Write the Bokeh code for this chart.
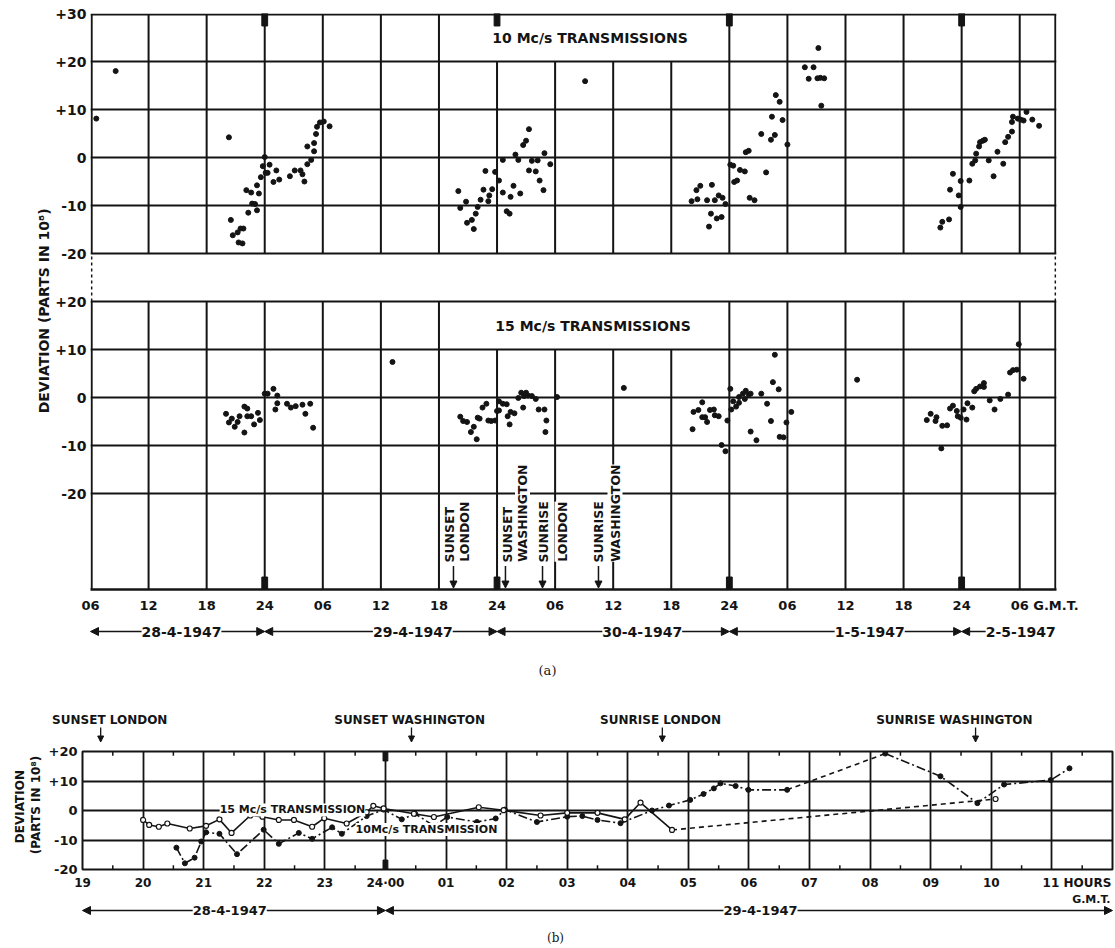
import numpy as np
from bokeh.plotting import figure
from bokeh.models import (Range1d, FixedTicker, Label, Arrow, NormalHead, ColumnDataSource)
from bokeh.layouts import column, row
from bokeh.embed import file_html
from bokeh.resources import INLINE

# ---------------------------------------------------------------- data
# Panel (a): time in hours counted from 00 h G.M.T. on 28-4-1947
A10_HOURS = [6.6, 8.6, 20.3, 20.5, 20.7, 21.2, 21.3, 21.7, 21.5, 21.8, 22.1, 22.3, 22.6, 22.7,
             23.0, 23.2, 23.2, 23.4, 23.6, 23.8, 24.0, 24.1, 24.3, 24.5, 24.9, 25.2, 25.5, 26.6,
             27.1, 27.7, 27.9, 28.1, 28.4, 28.4, 28.8, 29.1, 29.1, 29.3, 29.4, 29.7, 30.1, 30.7,
             44.0, 44.2, 44.8, 44.9, 45.4, 45.6, 45.8, 46.0, 46.3, 46.6, 46.8, 47.1, 47.2, 47.5,
             47.8, 48.2, 48.6, 48.6, 49.0, 49.3, 49.4, 49.7, 49.9, 50.2, 50.4, 50.7, 51.0, 51.3,
             51.3, 51.6, 52.0, 52.2, 52.4, 52.8, 52.9, 53.5, 57.1,
             68.1, 68.6, 68.7, 69.0, 69.7, 69.9, 70.1, 70.2, 70.5, 70.7, 70.9, 71.2, 71.3, 71.6,
             72.1, 72.4, 72.5, 72.8, 73.1, 73.6, 73.7, 74.0, 74.1, 74.6, 75.3, 75.8, 76.3, 76.4,
             76.7, 76.8, 77.2, 77.5, 78.0, 79.8, 80.2, 80.7, 81.1, 81.4, 81.8, 81.2, 81.5,
             93.8, 94.0, 94.7, 94.8, 95.1, 95.7, 95.9, 95.9, 96.8, 97.1, 97.4, 97.5, 97.8, 97.9,
             98.2, 98.4, 98.8, 99.3, 99.7, 100.3, 100.5, 100.8, 101.2, 101.2, 101.3, 101.8, 102.1,
             102.4, 102.7, 103.3, 104.0]
A10_DEV = [8.1, 18.0, 4.2, -13.0, -16.2, -15.6, -17.7, -17.9, -14.8, -14.8, -6.8, -11.5, -7.3, -9.6,
           -9.7, -11.0, -5.8, -7.5, -4.1, -1.8, 0.1, -3.2, -3.2, -1.5, -5.1, -2.7, -4.6, -3.9,
           -2.7, -2.7, -3.5, -5.0, -1.4, 2.3, -0.5, 1.3, 3.0, 4.9, 6.4, 7.3, 7.5, 6.5,
           -7.0, -10.5, -9.2, -13.6, -13.0, -14.9, -11.7, -10.3, -8.8, -6.7, -2.8, -9.1, -7.9, -6.6,
           -3.0, -4.8, -0.5, -7.3, -11.2, -11.7, -8.2, -5.9, 0.6, -0.5, -7.5, 2.6, 3.5, 5.9,
           -2.7, -0.7, -2.9, -0.6, -4.8, -6.8, 0.9, -1.4, 15.9,
           -9.1, -6.8, -8.7, -5.9, -8.9, -14.4, -11.7, -5.7, -8.9, -12.7, -7.9, -12.4, -8.4, -9.7,
           -1.5, -1.7, -5.1, -4.8, -2.6, -2.9, 1.1, 1.4, -8.4, -8.9, 4.9, -3.1, 3.7, 8.5,
           4.7, 13.0, 11.6, 7.8, 2.7, 18.8, 16.4, 18.8, 16.5, 16.6, 16.5, 22.8, 10.8,
           -14.6, -13.4, -12.9, -6.7, -3.4, -7.9, -10.3, -4.9, -4.8, -1.3, -0.6, 0.8, 2.3, 3.2,
           3.5, 3.7, -0.6, -3.9, 1.2, -1.3, 3.2, 4.3, 5.4, 7.4, 8.5, 8.1, 7.9,
           7.7, 9.5, 7.9, 6.6]

A15_HOURS = [20.0, 20.3, 20.6, 20.9, 21.2, 21.4, 21.9, 22.2, 21.9, 22.2, 22.6, 22.9, 23.3, 23.5,
             24.0, 24.3, 24.9, 25.3, 25.3, 25.1, 26.3, 26.7, 27.2, 27.9, 28.7, 28.2, 29.0, 37.2,
             44.2, 44.5, 44.9, 45.3, 45.6, 45.9, 46.0, 46.2, 46.5, 46.9, 47.1, 47.4, 47.8, 48.0,
             48.2, 48.2, 48.6, 49.0, 49.1, 49.3, 49.4, 49.8, 50.2, 50.5, 50.8, 51.0, 51.2, 51.6,
             50.7, 52.0, 52.3, 52.9, 53.1, 53.0, 54.2, 61.1,
             68.2, 68.3, 68.8, 69.2, 69.2, 69.5, 69.7, 70.0, 70.4, 70.5, 70.9, 71.2, 71.6, 71.8,
             72.1, 72.2, 72.4, 72.7, 73.0, 73.0, 73.4, 73.7, 74.0, 74.2, 74.2, 75.3, 73.6, 75.9,
             76.3, 74.8, 76.5, 76.7, 77.1, 77.2, 77.6, 77.9, 78.4, 85.2,
             92.4, 92.8, 93.3, 93.4, 93.9, 94.0, 94.5, 94.8, 95.1, 95.5, 95.6, 95.9, 96.5, 96.2,
             96.6, 97.1, 97.3, 97.5, 97.9, 98.3, 98.3, 98.9, 99.4, 100.0, 100.8, 101.0, 101.3,
             101.7, 101.9, 102.4]
A15_DEV = [-3.4, -5.2, -4.4, -6.1, -5.1, -3.9, -1.9, -2.3, -7.3, -3.9, -3.9, -5.6, -3.2, -4.7,
           0.8, 0.8, 1.8, 0.4, -1.2, -2.5, -1.3, -2.1, -1.8, -1.5, -1.3, -3.4, -6.3, 7.4,
           -4.0, -4.9, -5.1, -7.2, -6.1, -8.7, -4.2, -4.4, -2.1, -1.3, -4.8, -4.9, -4.8, -2.8,
           -0.8, -2.7, -1.3, -1.4, -3.9, -5.6, -3.0, -3.3, -0.1, 1.0, 0.3, 1.0, 0.4, 0.3,
           -2.1, -0.3, -2.5, -2.5, -4.8, -7.2, 0.1, 2.0,
           -6.6, -3.0, -2.6, -1.0, -4.1, -4.1, -5.1, -2.6, -2.5, -3.7, -3.9, -9.9, -11.2, -4.8,
           1.8, -2.5, -0.8, -1.9, -1.1, 0.1, 0.8, 1.4, 0.6, -7.1, 0.8, 0.8, -0.3, -1.3,
           -4.9, -8.9, 3.2, 8.9, 1.7, -8.2, -8.3, -5.2, -3.0, 3.7,
           -4.7, -3.4, -4.9, -4.1, -10.6, -5.9, -5.8, -2.3, -1.7, -2.8, -3.9, -4.2, -4.6, -2.5,
           -1.2, -2.1, 1.3, 1.8, 2.3, 3.0, 2.2, -0.6, -2.5, -0.3, 0.6, 5.2, 5.7,
           5.8, 11.1, 3.9]

A_TICKS = [6, 12, 18, 24, 30, 36, 42, 48, 54, 60, 66, 72, 78, 84, 90, 96, 102]
A_TICK_LABELS = ["06", "12", "18", "24", "06", "12", "18", "24", "06", "12", "18", "24",
                 "06", "12", "18", "24", "06 G.M.T."]
A_DEV_TICKS = [-20, -10, 0, 10, 20, 30]
A_DEV_LABELS = ["-20", "-10", "0", "+10", "+20", "+30"]
A_DAY_START = [6, 24, 48, 72, 96]
A_DAY_END = [24, 48, 72, 96, 100]
A_DATES = ["28-4-1947", "29-4-1947", "30-4-1947", "1-5-1947", "2-5-1947"]
A_DATE_POS = [15.4, 39.3, 63.0, 86.5, 102.1]
A_SUN_WORD = ["SUNSET", "SUNSET", "SUNRISE", "SUNRISE"]
A_SUN_CITY = ["LONDON", "WASHINGTON", "LONDON", "WASHINGTON"]
A_SUN_HOURS = [43.5, 48.87, 52.7, 58.48]

# Panel (b): hours counted from 00 h G.M.T. on 28-4-1947
B15_HOURS = [20.0, 20.1, 20.26, 20.4, 20.77, 21.04, 21.26, 21.46, 21.77, 21.97, 22.24, 22.49,
             22.79, 22.99, 23.36, 23.69, 23.8, 23.97, 24.47, 24.8, 25.54, 25.95, 26.56, 27.0,
             27.5, 27.95, 28.21, 28.73, 34.07]
B15_DEV = [-3.2, -4.9, -5.5, -4.4, -6.1, -5.2, -3.0, -7.6, -1.7, -2.1, -3.2, -3.2,
           -5.5, -2.6, -4.4, -0.6, 1.6, 0.7, -1.1, -2.2, 1.1, 0.1, -1.7, -0.8,
           -0.8, -3.0, 2.7, -6.6, 3.9]
B10_HOURS = [20.55, 20.69, 20.85, 20.96, 21.04, 21.26, 21.55, 21.99, 22.24, 22.57, 22.79, 23.12,
             23.28, 23.69, 23.97, 24.27, 24.49, 24.8, 25.02, 25.51, 25.82, 25.97, 26.5, 27.0,
             27.25, 27.5, 27.88, 28.4, 28.68, 29.03, 29.25, 29.42, 29.53, 29.78, 29.99, 30.63,
             32.25, 33.16, 33.77, 34.21, 34.98, 35.29]
B10_DEV = [-12.6, -17.9, -16.0, -10.5, -7.4, -7.9, -14.8, -6.5, -11.3, -7.6, -9.6, -5.7,
           -7.9, -1.9, 0.3, -3.0, -1.1, -5.2, -2.2, -3.9, -2.7, 0.3, -3.9, -2.1,
           -1.9, -3.2, -4.3, 0.0, 1.7, 3.6, 5.6, 7.5, 9.2, 8.3, 7.0, 7.0,
           19.3, 11.6, 2.5, 8.8, 10.3, 14.3]
B_TICKS = list(range(19, 36))
B_TICK_LABELS = ["19", "20", "21", "22", "23", "24·00", "01", "02", "03", "04", "05",
                 "06", "07", "08", "09", "10", "11 HOURS"]
B_DEV_TICKS = [-20, -10, 0, 10, 20]
B_DEV_LABELS = ["-20", "-10", "0", "+10", "+20"]
B_DATES = ["28-4-1947", "29-4-1947"]
B_DATE_POS = [21.43, 30.19]
B_DAY_START = [19, 24]
B_DAY_END = [24, 36]
B_SUN_TEXT = ["SUNSET LONDON", "SUNSET WASHINGTON", "SUNRISE LONDON", "SUNRISE WASHINGTON"]
B_SUN_TEXT_POS = [19.45, 24.4, 28.54, 33.39]
B_SUN_HOURS = [19.3, 24.43, 28.57, 33.74]

# ---------------------------------------------------------------- style / geometry
INK = "#141414"
FONT = "DejaVu Sans"
NBSP = "\u00a0"
TOP_OFF = 90   # vertical offset of the 10 Mc/s section in panel (a)
LOW_OFF = 40   # vertical offset of the 15 Mc/s section in panel (a)
PAGE_W = 1115
KA = (1056 - 90) / (105.8 - 6)     # panel (a): px per hour
KB = (1112 - 82) / 17.0            # panel (b): px per hour


def ha(px):
    return 6 + (px - 90) / KA


def hb(px):
    return 19 + (px - 82) / KB


def lab(p, x, y, text, size="13px", align="center", baseline="middle", angle=0,
        bg=None, style="bold", font=FONT):
    kw = dict(x=x, y=y, text=text, text_font=font, text_font_style=style,
              text_font_size=size, text_color=INK, text_align=align,
              text_baseline=baseline, angle=angle, angle_units="deg")
    if bg:
        kw["background_fill_color"] = bg
        kw["background_fill_alpha"] = 1.0
    p.add_layout(Label(**kw))


def arrow(p, x0, y0, x1, y1, size=7, width=1.5, both=False):
    kw = dict(x_start=x0, y_start=y0, x_end=x1, y_end=y1, line_color=INK, line_width=width,
              end=NormalHead(size=size, fill_color=INK, line_color=INK, line_width=1))
    if both:
        kw["start"] = NormalHead(size=size, fill_color=INK, line_color=INK, line_width=1)
    p.add_layout(Arrow(**kw))


def blank(width, top, bottom, x0, x1):
    """Full-frame strip; y data = -(page y)."""
    p = figure(width=width, height=bottom - top, x_range=Range1d(x0, x1),
               y_range=Range1d(-bottom, -top), x_axis_type=None, y_axis_type=None,
               output_backend="svg", toolbar_location=None, min_border=0)
    p.outline_line_color = None
    p.background_fill_color = "white"
    p.border_fill_color = "white"
    return p


def style_axis(ax, size):
    ax.axis_line_color = None
    ax.major_tick_line_color = None
    ax.minor_tick_line_color = None
    ax.major_tick_out = 0
    ax.major_tick_in = 0
    ax.minor_tick_out = 0
    ax.minor_tick_in = 0
    ax.major_label_text_font = FONT
    ax.major_label_text_font_style = "bold"
    ax.major_label_text_font_size = size
    ax.major_label_text_color = INK


# ================================================================ panel (a)
XA0, XA1 = 6, 105.8
AUXA_W = 52
pa = figure(width=PAGE_W - AUXA_W, height=616, x_range=Range1d(XA0, XA1),
            y_range=Range1d(0, 120), output_backend="svg", toolbar_location=None,
            min_border_left=38, min_border_right=59, min_border_top=13, min_border_bottom=27)
pa.outline_line_color = None
pa.grid.visible = False
pa.background_fill_color = "white"
pa.border_fill_color = "white"

merged = {48, 54, 60, 66}
sx0, sy0, sx1, sy1 = [], [], [], []
for t in A_TICKS:
    xt = t + 0.12 if t == XA0 else t
    sx0 += [xt, xt]
    sx1 += [xt, xt]
    sy0 += [70, 0]
    sy1 += [110 if t in merged else 119.8, 50 if t in merged else 60]
xr = XA1 - 0.12
sx0 += [xr, xr]; sx1 += [xr, xr]; sy0 += [0, 70]; sy1 += [60, 119.8]
for yv in [70, 80, 90, 100, 110, 119.8, 20, 30, 40, 50, 60]:
    sx0.append(XA0); sx1.append(XA1); sy0.append(yv); sy1.append(yv)
pa.segment(x0=sx0, y0=sy0, x1=sx1, y1=sy1, line_color=INK, line_width=2)
pa.segment(x0=[XA0 + 0.12, xr], y0=[60, 60], x1=[XA0 + 0.12, xr], y1=[70, 70],
           line_color=INK, line_width=1.5, line_dash="3 3")
mid = [24, 48, 72, 96]
pa.quad(left=[m - 0.3 for m in mid], right=[m + 0.3 for m in mid],
        bottom=[117.4] * 4, top=[120] * 4, color=INK)
pa.quad(left=[m - 0.3 for m in mid], right=[m + 0.3 for m in mid],
        bottom=[0] * 4, top=[2.6] * 4, color=INK)

src10 = ColumnDataSource(dict(x=A10_HOURS, y=np.array(A10_DEV) + TOP_OFF))
src15 = ColumnDataSource(dict(x=A15_HOURS, y=np.array(A15_DEV) + LOW_OFF))
pa.scatter("x", "y", source=src10, size=5, color=INK)
pa.scatter("x", "y", source=src15, size=5, color=INK)

pad_a = NBSP * 11
a_labels = list(A_TICK_LABELS)
a_labels[-1] = pad_a + a_labels[-1]
pa.xaxis.ticker = FixedTicker(ticks=A_TICKS)
pa.xaxis.major_label_overrides = {t: s for t, s in zip(A_TICKS, a_labels)}
style_axis(pa.xaxis, "13px")
pa.xaxis.axis_line_color = INK
pa.xaxis.axis_line_width = 2.5
pa.xaxis.major_label_standoff = 8

ya_ticks = [v + LOW_OFF for v in A_DEV_TICKS[:-1]] + [v + TOP_OFF for v in A_DEV_TICKS]
ya_labels = A_DEV_LABELS[:-1] + A_DEV_LABELS
pa.yaxis.ticker = FixedTicker(ticks=ya_ticks)
pa.yaxis.major_label_overrides = {t: s for t, s in zip(ya_ticks, ya_labels)}
style_axis(pa.yaxis, "14px")
pa.yaxis.major_label_standoff = 4

lab(pa, ha(592), 115, "10 Mc/s  TRANSMISSIONS", size="14px")
lab(pa, ha(595), 55, "15 Mc/s  TRANSMISSIONS", size="14px")

word_px = [449, 507, 542.5, 597.5]
city_px = [464, 522, 561.5, 614.5]
for w, c, h, wx, cx in zip(A_SUN_WORD, A_SUN_CITY, A_SUN_HOURS, word_px, city_px):
    lab(pa, ha(wx), 5.6, w, size="12.5px", align="left", angle=90, bg="white")
    lab(pa, ha(cx), 5.8, c, size="12.5px", align="left", angle=90, bg="white")
    arrow(pa, h, 4.9, h, 0.3, size=7)

auxa = blank(AUXA_W, 0, 616, 0, AUXA_W)
lab(auxa, 43, -305, "DEVIATION      (PARTS IN 10\u2078)", size="14px", angle=90)

# date row of panel (a)
da = blank(PAGE_W, 616, 700, ha(0), ha(PAGE_W))
for i, (d0, d1) in enumerate(zip(A_DAY_START, A_DAY_END)):
    if i < len(A_DAY_START) - 1:
        arrow(da, d0, -631, d1, -631, size=8, width=1.5, both=True)
    else:
        arrow(da, d1, -631, d0, -631, size=8, width=1.5)
for d, xp in zip(A_DATES, A_DATE_POS):
    lab(da, xp, -631, d, size="14px", bg="white")
lab(da, ha(547), -670, "(a)", size="13px", style="normal", font="DejaVu Serif")

# ================================================================ panel (b)
SB_BOTTOM = 742
sb = blank(PAGE_W, 700, SB_BOTTOM, hb(0), hb(PAGE_W))
for t, tx, h in zip(B_SUN_TEXT, B_SUN_TEXT_POS, B_SUN_HOURS):
    lab(sb, tx, -719, t, size="12px")
    arrow(sb, h, -727, h, -(SB_BOTTOM - 0.5), size=6, width=1.3)

AUXB_W = 44
PB_TOP = 751 - SB_BOTTOM
pb = figure(width=PAGE_W - AUXB_W, height=892 - SB_BOTTOM, x_range=Range1d(19, 36),
            y_range=Range1d(-20, 20), output_backend="svg", toolbar_location=None,
            min_border_left=38, min_border_right=3, min_border_top=PB_TOP, min_border_bottom=20)
pb.outline_line_color = INK
pb.outline_line_width = 2
pb.background_fill_color = "white"
pb.border_fill_color = "white"
pb.xgrid.ticker = FixedTicker(ticks=B_TICKS[1:])
pb.ygrid.ticker = FixedTicker(ticks=[-10, 0, 10])
pb.grid.grid_line_color = INK
pb.grid.grid_line_width = 1.8
pb.grid.grid_line_alpha = 1

pad_b = NBSP * 12
b_labels = list(B_TICK_LABELS)
b_labels[-1] = pad_b + b_labels[-1]
pb.xaxis.ticker = FixedTicker(ticks=B_TICKS)
pb.xaxis.major_label_overrides = {t: s for t, s in zip(B_TICKS, b_labels)}
style_axis(pb.xaxis, "12px")
pb.xaxis.major_label_standoff = 6
pb.yaxis.ticker = FixedTicker(ticks=B_DEV_TICKS)
pb.yaxis.major_label_overrides = {t: s for t, s in zip(B_DEV_TICKS, B_DEV_LABELS)}
style_axis(pb.yaxis, "13px")
pb.yaxis.major_label_standoff = 5

half = [t + 0.5 for t in B_TICKS[:-1]] + [35.5]
pb.segment(x0=half, y0=[20] * len(half), x1=half, y1=[18.6] * len(half),
           line_color=INK, line_width=1.5)
pb.segment(x0=half, y0=[-20] * len(half), x1=half, y1=[-18.6] * len(half),
           line_color=INK, line_width=1.5)
pb.quad(left=[23.96, 23.96], right=[24.04, 24.04], bottom=[16.8, -20], top=[20, -16.8], color=INK)
# arrow tips of the sun markers reaching the frame
pb.segment(x0=B_SUN_HOURS, y0=[20] * 4, x1=B_SUN_HOURS, y1=[20] * 4, line_color=INK)


def split_gap(h, v, gap=1.5):
    h = list(h); v = list(v)
    for i in range(1, len(h)):
        if h[i] - h[i - 1] > gap:
            return (h[:i], v[:i]), (h[i - 1:i + 1], v[i - 1:i + 1]), (h[i:], v[i:])
    return (h, v), ([], []), ([], [])


a15, g15, c15 = split_gap(B15_HOURS, B15_DEV)
pb.line(a15[0], a15[1], line_color=INK, line_width=1.6)
pb.line(g15[0], g15[1], line_color=INK, line_width=1.6, line_dash="5 4")
pb.line(c15[0], c15[1], line_color=INK, line_width=1.6)
a10, g10, c10 = split_gap(B10_HOURS, B10_DEV)
pb.line(a10[0], a10[1], line_color=INK, line_width=1.6, line_dash="9 3 2 3")
pb.line(g10[0], g10[1], line_color=INK, line_width=1.6, line_dash="5 4")
pb.line(c10[0], c10[1], line_color=INK, line_width=1.6, line_dash="9 3 2 3")
pb.scatter(B10_HOURS, B10_DEV, size=5, color=INK)
pb.scatter(B15_HOURS, B15_DEV, size=5, fill_color="white", line_color=INK, line_width=1.2)

lab(pb, hb(292), 0.2, "15 Mc/s TRANSMISSION", size="11px", bg="white")
lab(pb, hb(426), -6.4, "10Mc/s TRANSMISSION", size="11px", bg="white")

auxb = blank(AUXB_W, SB_BOTTOM, 892, 0, AUXB_W)
lab(auxb, 19, -812, "DEVIATION", size="12px", angle=90)
lab(auxb, 35, -810, "(PARTS IN 10\u2078)", size="12px", angle=90)

db = blank(PAGE_W, 892, 948, hb(0), hb(PAGE_W))
lab(db, hb(1110), -899, "G.M.T.", size="11px", align="right")
for d0, d1 in zip(B_DAY_START, B_DAY_END):
    arrow(db, d0, -910, d1, -910, size=8, width=1.5, both=True)
for d, xp in zip(B_DATES, B_DATE_POS):
    lab(db, xp, -910, d, size="13px", bg="white")
lab(db, hb(555), -937, "(b)", size="12px", style="normal", font="DejaVu Serif")

layout = column(row(auxa, pa), da, sb, row(auxb, pb), db)
open("out.html", "w").write(file_html(layout, INLINE))
